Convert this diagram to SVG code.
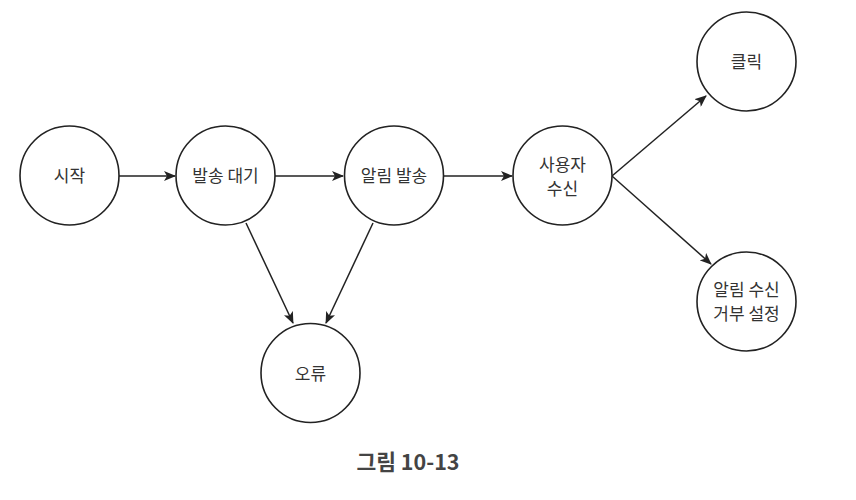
<svg xmlns="http://www.w3.org/2000/svg" width="856" height="500" viewBox="0 0 856 500">
<style>
.n circle{fill:#fff;stroke:#222;stroke-width:1.6}
.n text{font-family:"Noto Sans CJK KR","Noto Sans",sans-serif;font-size:17px;fill:#333;text-anchor:middle}
.e line{stroke:#222;stroke-width:1.5;marker-end:url(#ah)}
.cap{font-family:"Noto Sans CJK KR","Noto Sans",sans-serif;font-size:21.5px;font-weight:bold;fill:#444;text-anchor:middle}
</style>
<defs>
<marker id="ah" markerWidth="12" markerHeight="10" refX="11" refY="5" orient="auto" markerUnits="userSpaceOnUse">
<path d="M0,0 L12,5 L0,10 L3,5 Z" fill="#222"/>
</marker>
</defs>
<rect width="856" height="500" fill="#fff"/>
<g id="edges" class="e">
<line x1="119" y1="176" x2="175" y2="176"/>
<line x1="274" y1="176" x2="343" y2="176"/>
<line x1="443" y1="176" x2="512" y2="176"/>
<line x1="612" y1="176" x2="706" y2="96"/>
<line x1="612" y1="176" x2="711" y2="264"/>
<line x1="246" y1="223" x2="293" y2="323"/>
<line x1="373" y1="223" x2="326" y2="323"/>
</g>
<g id="start" class="n"><circle cx="69.5" cy="175.5" r="49.5"/><text x="69.5" y="182">시작</text></g>
<g id="wait" class="n"><circle cx="225.5" cy="175.5" r="49.5"/><text x="225.5" y="182">발송 대기</text></g>
<g id="send" class="n"><circle cx="394" cy="175.5" r="49.5"/><text x="394" y="182">알림 발송</text></g>
<g id="recv" class="n"><circle cx="562.5" cy="175.5" r="49.5"/><text x="562.5" y="171">사용자</text><text x="562.5" y="195">수신</text></g>
<g id="click" class="n"><circle cx="746.5" cy="61.5" r="49.5"/><text x="746.5" y="68">클릭</text></g>
<g id="optout" class="n"><circle cx="746.5" cy="301.5" r="49.5"/><text x="746.5" y="296">알림 수신</text><text x="746.5" y="320">거부 설정</text></g>
<g id="error" class="n"><circle cx="310.5" cy="373" r="49.5"/><text x="310.5" y="379.5">오류</text></g>
<text class="cap" x="408" y="470">그림 10-13</text>
</svg>
